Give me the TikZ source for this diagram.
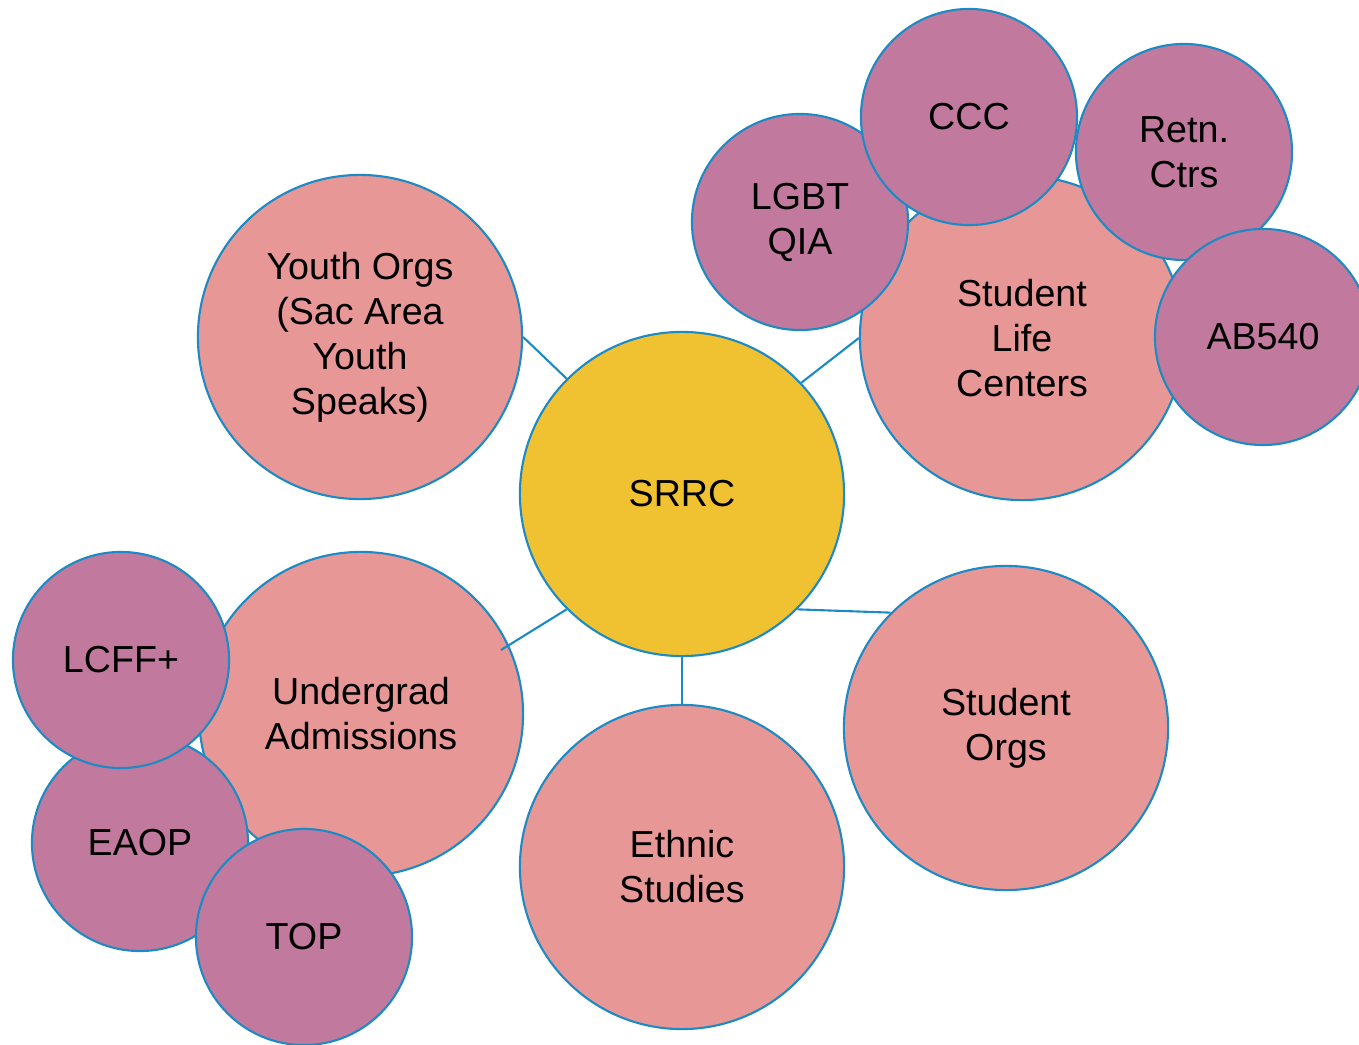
\documentclass[tikz,border=0pt]{standalone}
\usepackage{fontspec}
\setmainfont{Liberation Sans}
\usepackage{tikz}

\definecolor{hubyellow}{RGB}{240,194,50}
\definecolor{partnersalmon}{RGB}{232,151,151}
\definecolor{subpurple}{RGB}{193,122,157}
\definecolor{rimblue}{RGB}{28,138,196}

\begin{document}
\begin{tikzpicture}[x=0.01cm,y=-0.01cm,
    bubble/.style={circle,draw=rimblue,line width=0.6pt,inner sep=0pt,
      align=center,font=\fontsize{10.7pt}{12.8pt}\selectfont},
    big/.style={bubble,minimum size=3.24cm,fill=partnersalmon},
    small/.style={bubble,minimum size=2.16cm,fill=subpurple},
    link/.style={draw=rimblue,line width=0.6pt}]
  \useasboundingbox (0,0) rectangle (1359,1045);
      \node[big,fill=hubyellow] (srrc) at (682,494) {SRRC};
      \node[big] (youth) at (360,337) {Youth Orgs\\(Sac Area\\Youth\\Speaks)};
      \node[big] (slc) at (1022,338) {Student\\Life\\Centers};
      \node[big] (ugrad) at (361,714) {Undergrad\\Admissions};
      \node[big] (ethnic) at (682,867) {Ethnic\\Studies};
      \node[big] (sorgs) at (1006,728) {Student\\Orgs};
      \coordinate (ugend) at (501,650);
    \draw[link] (srrc.135) -- (youth.east);
    \draw[link] (srrc.43) -- (slc.west);
    \draw[link] (srrc.-135) -- (ugend);
    \draw[link] (srrc.south) -- (ethnic.north);
    \draw[link] (srrc.-45) -- (sorgs.135);
      \node[small] (lgbt) at (800,222) {LGBT\\QIA};
      \node[small] (ccc) at (969,117) {CCC};
      \node[small] (retn) at (1184,152) {Retn.\\Ctrs};
      \node[small] (ab540) at (1263,337) {AB540};
      \node[small] (eaop) at (140,843) {EAOP};
      \node[small] (lcff) at (121,660) {LCFF+};
      \node[small] (top) at (304,937) {TOP};
\end{tikzpicture}
\end{document}
